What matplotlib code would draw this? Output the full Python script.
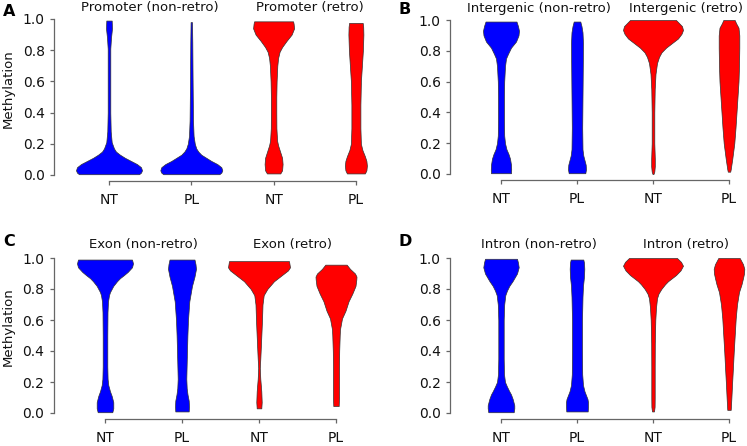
import matplotlib.pyplot as plt

# violin outlines: (methylation level, density)
# density is the half width of the violin in pixels of the original figure

# A: promoter
prom_nonretro_nt = [(0.005, 30), (0.015, 32), (0.03, 33), (0.05, 32), (0.07, 28), (0.09, 22),
                    (0.11, 16), (0.13, 11), (0.15, 7), (0.17, 5), (0.21, 2.7), (0.28, 1.7),
                    (0.4, 1.3), (0.6, 1.3), (0.81, 1.3), (0.88, 2), (0.94, 3), (0.99, 2.7)]
prom_nonretro_pl = [(0.005, 28), (0.015, 30), (0.03, 31), (0.05, 30), (0.07, 26), (0.09, 20),
                    (0.11, 15), (0.13, 10), (0.15, 7), (0.17, 5), (0.2, 3.5), (0.25, 2.3),
                    (0.35, 1.7), (0.6, 1.3), (0.85, 1.0), (0.98, 0.7)]
prom_retro_nt = [(0.01, 6.7), (0.03, 8.5), (0.07, 9), (0.11, 8.5), (0.15, 6.5), (0.19, 4.5),
                 (0.22, 3.5), (0.3, 2.8), (0.4, 2.7), (0.5, 2.7), (0.6, 3), (0.7, 3.7),
                 (0.75, 4.5), (0.79, 6), (0.82, 8.5), (0.86, 13), (0.9, 18), (0.94, 20.5),
                 (0.97, 20), (0.985, 19.5)]
prom_retro_pl = [(0.01, 9), (0.03, 10.5), (0.06, 11), (0.09, 10.5), (0.12, 9), (0.16, 6.5),
                 (0.2, 5), (0.3, 4.5), (0.45, 4.5), (0.6, 5), (0.7, 6), (0.8, 7), (0.9, 7.5),
                 (0.95, 7.3), (0.975, 6.8)]

# B: intergenic
inter_nonretro_nt = [(0.005, 10), (0.03, 10.2), (0.06, 10), (0.1, 9), (0.13, 7.5), (0.16, 5.5),
                     (0.2, 4), (0.25, 3.2), (0.35, 3), (0.5, 3), (0.6, 3.2), (0.7, 4),
                     (0.75, 5), (0.78, 7), (0.82, 10), (0.86, 15), (0.9, 17.5), (0.93, 18),
                     (0.96, 17), (0.99, 15.5)]
inter_nonretro_pl = [(0.005, 8.3), (0.03, 9), (0.06, 8.7), (0.09, 7.5), (0.12, 6.3), (0.16, 5.5),
                     (0.3, 5.2), (0.5, 5.5), (0.7, 5.8), (0.85, 6), (0.92, 5.5), (0.96, 4.5),
                     (0.99, 3.3)]
inter_retro_nt = [(0.0, 0.5), (0.015, 1.3), (0.05, 1.8), (0.1, 1.8), (0.2, 1.3), (0.4, 1.3),
                  (0.55, 1.7), (0.65, 2.5), (0.72, 4), (0.76, 6), (0.79, 8.5), (0.82, 13),
                  (0.85, 19), (0.88, 25), (0.91, 28.5), (0.935, 30), (0.96, 29), (0.98, 26),
                  (1.0, 23)]
inter_retro_pl = [(0.015, 1.2), (0.03, 1.7), (0.1, 3.3), (0.2, 5.3), (0.3, 6.5), (0.4, 7.5),
                  (0.5, 8.5), (0.6, 9.5), (0.7, 10), (0.82, 10.3), (0.9, 10.3), (0.95, 9.5),
                  (0.98, 7), (1.0, 5.7)]

# C: exon
exon_nonretro_nt = [(0.005, 7.3), (0.03, 8.3), (0.07, 8.3), (0.11, 6.7), (0.14, 5), (0.18, 3.3),
                    (0.22, 2.6), (0.3, 2.3), (0.5, 2.3), (0.65, 2.5), (0.72, 3), (0.76, 4),
                    (0.78, 5), (0.82, 8.3), (0.85, 12), (0.87, 15), (0.89, 19), (0.91, 22.7),
                    (0.94, 27), (0.965, 28), (0.99, 27)]
exon_nonretro_pl = [(0.01, 6.7), (0.04, 7), (0.08, 6.7), (0.12, 5.5), (0.16, 4.7), (0.22, 4.3),
                    (0.3, 4.6), (0.4, 5), (0.5, 5.4), (0.6, 6), (0.72, 7.3), (0.82, 10),
                    (0.88, 12.5), (0.93, 14), (0.96, 13.5), (0.99, 12.5)]
exon_retro_nt = [(0.03, 2.3), (0.07, 2.7), (0.14, 2.3), (0.22, 1.3), (0.29, 0.8), (0.35, 1.3),
                 (0.45, 2), (0.6, 3), (0.7, 3.5), (0.76, 4.7), (0.8, 8.3), (0.85, 15),
                 (0.88, 21), (0.9, 25), (0.92, 29), (0.94, 31), (0.96, 30.5), (0.98, 30)]
exon_retro_pl = [(0.045, 2.7), (0.1, 3), (0.2, 3), (0.3, 3), (0.4, 3.2), (0.5, 3.7), (0.54, 4),
                 (0.61, 6), (0.66, 9.5), (0.72, 12.5), (0.77, 16.3), (0.82, 19.5), (0.86, 20.3),
                 (0.88, 20.5), (0.9, 19), (0.93, 14), (0.957, 10.7)]

# D: intron
intron_nonretro_nt = [(0.005, 12.7), (0.03, 13.3), (0.05, 13.3), (0.09, 11.7), (0.12, 10),
                      (0.14, 8.3), (0.17, 6), (0.2, 4), (0.25, 3), (0.35, 2.7), (0.6, 2.7),
                      (0.7, 3.2), (0.76, 4.3), (0.79, 6), (0.82, 8.3), (0.85, 11.5), (0.87, 13.3),
                      (0.9, 16), (0.94, 17.7), (0.97, 17), (0.995, 16)]
intron_nonretro_pl = [(0.01, 10.7), (0.04, 11), (0.07, 11), (0.09, 10.5), (0.11, 9.3), (0.14, 7.5),
                      (0.18, 6), (0.25, 5.2), (0.4, 5), (0.6, 5), (0.75, 5.5), (0.82, 6),
                      (0.88, 7), (0.93, 7.3), (0.97, 7), (0.99, 6.3)]
intron_retro_nt = [(0.01, 1), (0.04, 1.6), (0.1, 1.7), (0.3, 1.7), (0.45, 1.8), (0.6, 2.3),
                   (0.68, 3), (0.74, 4), (0.77, 5.5), (0.8, 8.3), (0.83, 12), (0.85, 15),
                   (0.87, 19), (0.89, 23), (0.92, 27.5), (0.95, 30), (0.975, 28), (1.0, 24)]
intron_retro_pl = [(0.02, 1.7), (0.05, 2), (0.1, 2.4), (0.18, 3), (0.3, 4), (0.39, 4.7),
                   (0.5, 5.7), (0.61, 6.7), (0.7, 8), (0.78, 10), (0.83, 12.5), (0.87, 14),
                   (0.9, 15), (0.93, 15.3), (0.96, 14), (1.0, 10.7)]

group_labels = ['NT', 'PL', 'NT', 'PL']
yticks = [0.0, 0.2, 0.4, 0.6, 0.8, 1.0]

panels = [
    ('A', 'Promoter', [prom_nonretro_nt, prom_nonretro_pl, prom_retro_nt, prom_retro_pl]),
    ('B', 'Intergenic', [inter_nonretro_nt, inter_nonretro_pl, inter_retro_nt, inter_retro_pl]),
    ('C', 'Exon', [exon_nonretro_nt, exon_nonretro_pl, exon_retro_nt, exon_retro_pl]),
    ('D', 'Intron', [intron_nonretro_nt, intron_nonretro_pl, intron_retro_nt, intron_retro_pl]),
]

# layout in pixels: first violin x, spacing, row of 0.0, row of 1.0, letter x, letter y, title offset
layout = {
    'A': (109, 82.3, 175, 19, 3, 11.5, 0.075),
    'B': (501, 76, 174, 20, 399, 10, 0.075),
    'C': (105, 77, 413, 258, 3, 241, 0.085),
    'D': (501, 76, 413, 258, 399, 241.5, 0.085),
}
colors = ['#0000ff', '#0000ff', '#ff0000', '#ff0000']
axis_grey = '#666666'

W, H = 747, 446
fig = plt.figure(figsize=(W / 100, H / 100), dpi=100)
xlo, xhi = 0.332, 4.2
ylo, yhi = -0.04, 1.04

for letter, name, violins in panels:
    x0, sp, py0, py1, lx, ly, toff = layout[letter]
    sy = py0 - py1
    left = x0 - (1 - xlo) * sp
    width = (xhi - xlo) * sp
    bottom = py0 - ylo * sy
    top = py0 - yhi * sy
    ax = fig.add_axes([left / W, 1 - bottom / H, width / W, (bottom - top) / H])
    ax.set_xlim(xlo, xhi)
    ax.set_ylim(ylo, yhi)

    for i, v in enumerate(violins):
        ys = [p[0] for p in v]
        ws = [p[1] / sp for p in v]
        pos = i + 1
        ax.fill_betweenx(ys, [pos - w for w in ws], [pos + w for w in ws],
                         facecolor=colors[i], edgecolor='#333333', linewidth=0.5,
                         clip_on=False)

    for s in ['top', 'right']:
        ax.spines[s].set_visible(False)
    ax.spines['left'].set_bounds(0, 1)
    ax.spines['bottom'].set_bounds(1, 4)
    for s in ['left', 'bottom']:
        ax.spines[s].set_color(axis_grey)
        ax.spines[s].set_linewidth(0.9)

    ax.set_yticks(yticks)
    ax.set_yticklabels(['%.1f' % t for t in yticks])
    ax.set_xticks([1, 2, 3, 4])
    ax.set_xticklabels(group_labels)
    ax.tick_params(axis='both', direction='out', length=3.2, width=0.9, color=axis_grey,
                   labelsize=10, labelcolor='#111111')
    ax.tick_params(axis='y', pad=3.5)
    ax.tick_params(axis='x', pad=5.5)

    ax.text(1.5, 1 + toff, name + ' (non-retro)', ha='center', va='center', fontsize=9.5,
            color='#111111')
    ax.text(3.44, 1 + toff, name + ' (retro)', ha='center', va='center', fontsize=9.5,
            color='#111111')

    fig.text(lx / W, 1 - ly / H, letter, ha='left', va='center', fontsize=11.5,
             fontweight='bold')

fig.text(8 / W, 1 - 89 / H, 'Methylation', rotation=90, ha='center', va='center', fontsize=9.5,
         color='#111111')
fig.text(8 / W, 1 - 326.5 / H, 'Methylation', rotation=90, ha='center', va='center',
         fontsize=9.5, color='#111111')

fig.savefig('out.png', dpi=100)
